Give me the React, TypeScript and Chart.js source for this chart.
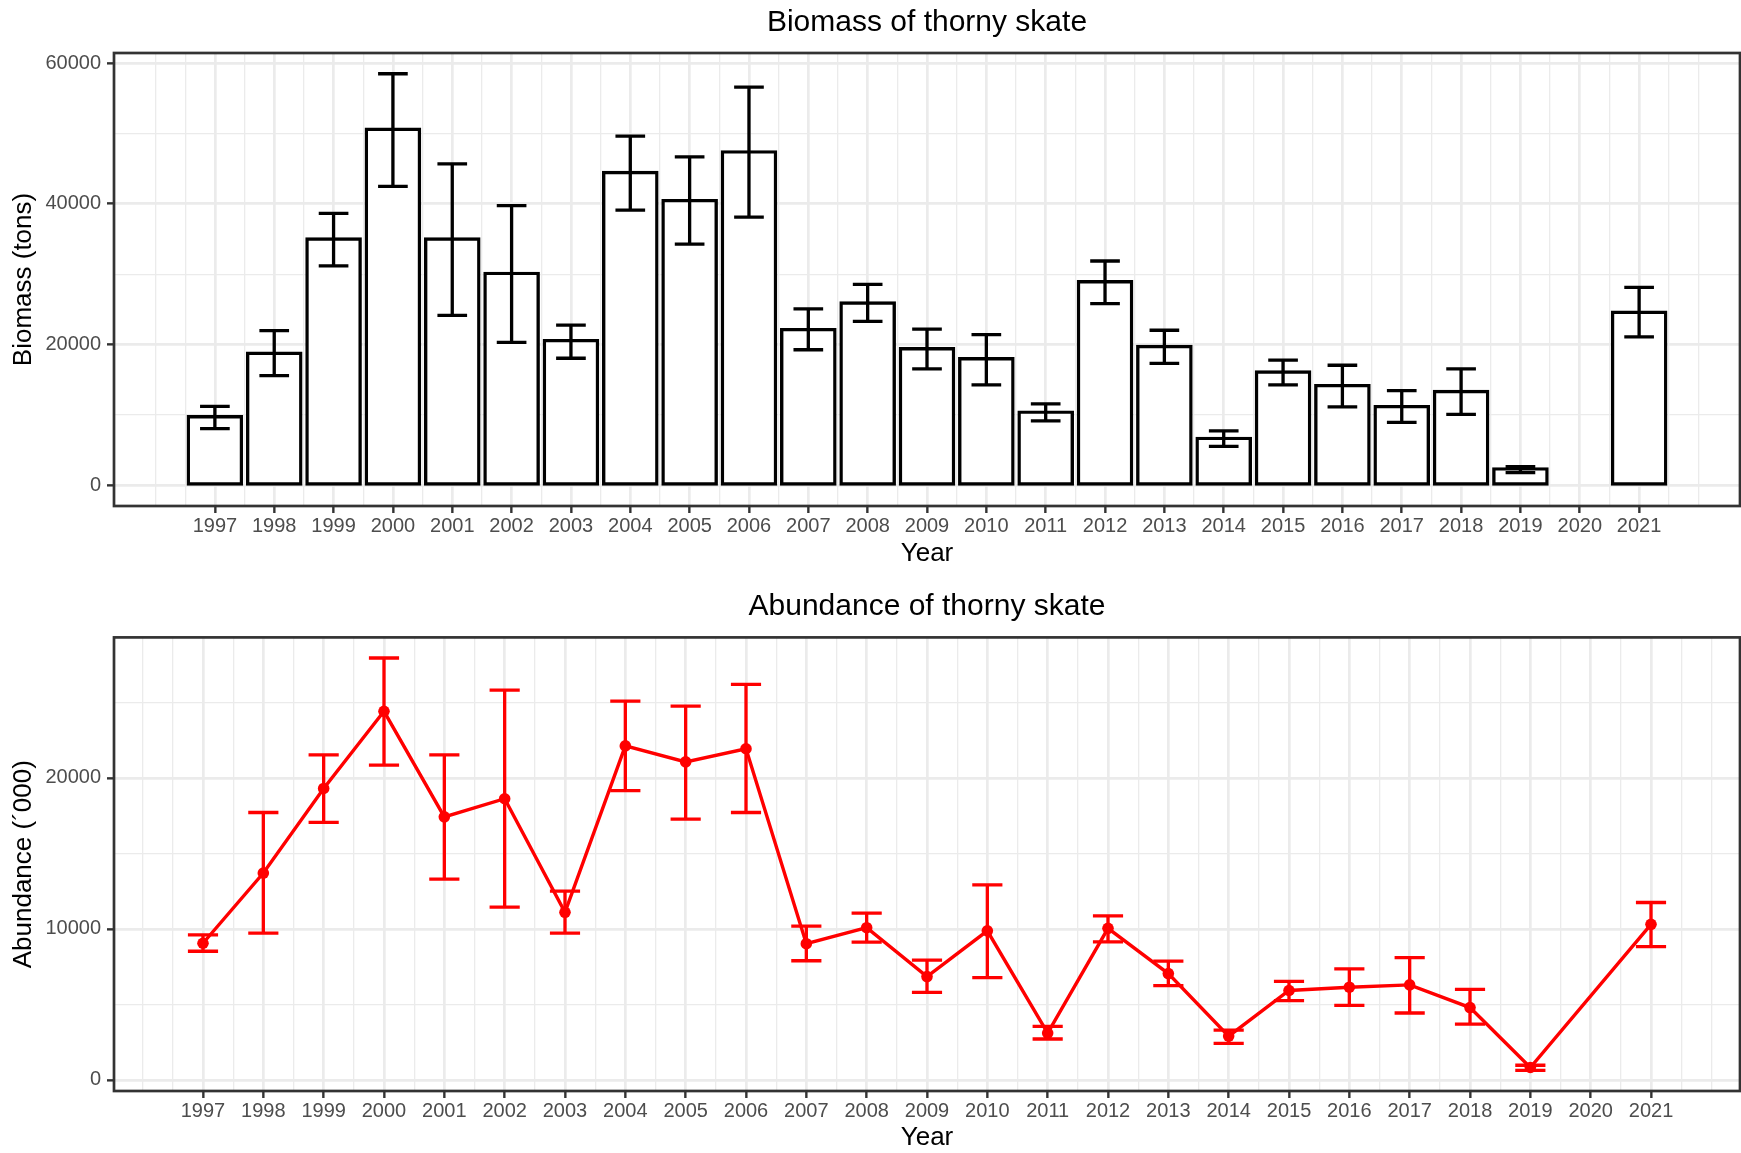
import React, { useEffect, useRef } from "react";
import { Chart, registerables } from "chart.js";

Chart.register(...registerables);

// ---------- data ----------
const years = [1997, 1998, 1999, 2000, 2001, 2002, 2003, 2004, 2005, 2006, 2007, 2008, 2009, 2010, 2011, 2012, 2013, 2014, 2015, 2016, 2017, 2018, 2019, 2021];
const xTickYears = [1997, 1998, 1999, 2000, 2001, 2002, 2003, 2004, 2005, 2006, 2007, 2008, 2009, 2010, 2011, 2012, 2013, 2014, 2015, 2016, 2017, 2018, 2019, 2020, 2021];

const biomass = [9760, 18790, 35010, 50600, 35010, 30130, 20580, 44460, 40470, 47400, 22150, 25930, 19420, 18010, 10420, 28950, 19740, 6700, 16130, 14190, 11200, 13350, 2360, 24610];
const biomassLow = [8080, 15590, 31180, 42470, 24150, 20310, 18060, 39110, 34280, 38110, 19270, 23310, 16540, 14290, 9160, 25810, 17330, 5550, 14290, 11150, 8950, 10100, 1830, 21100];
const biomassHigh = [11230, 22000, 38640, 58480, 45670, 39740, 22780, 49610, 46670, 56590, 25090, 28560, 22200, 21410, 11570, 31880, 22040, 7750, 17800, 17070, 13460, 16540, 2670, 28120];

const abundance = [9050, 13700, 19300, 24410, 17420, 18620, 11100, 22120, 21060, 21930, 9020, 10080, 6840, 9870, 3100, 10040, 7040, 2900, 5920, 6140, 6290, 4790, 820, 10300];
const abundanceLow = [8520, 9720, 17060, 20840, 13290, 11440, 9720, 19160, 17270, 17710, 7890, 9120, 5800, 6770, 2710, 9140, 6240, 2420, 5250, 4930, 4430, 3700, 630, 8830];
const abundanceHigh = [9600, 17710, 21520, 27940, 21520, 25810, 12500, 25090, 24750, 26200, 10180, 11050, 7930, 12910, 3550, 10860, 7860, 3290, 6530, 7350, 8100, 6000, 970, 11750];

const biomassYTicks = [0, 20000, 40000, 60000];
const abundanceYTicks = [0, 10000, 20000];

// ---------- style ----------
const FONT = "'Liberation Sans', Arial, Helvetica, sans-serif";
const GRID = "#EBEBEB";
const DARK = "#333333";
const TICK_TEXT = "#4D4D4D";
const MAJOR_W = 2.7;
const MINOR_W = 1.3;

function gridValues(majors: number[], min: number, max: number) {
  const step = majors[1] - majors[0];
  const ext = [majors[0] - step, ...majors, majors[majors.length - 1] + step];
  const mids: number[] = [];
  for (let i = 0; i < ext.length - 1; i++) mids.push(ext[i] + step / 2);
  const inRange = (v: number) => v >= min && v <= max;
  return {
    ends: [ext[0], ext[ext.length - 1]].filter(inRange),
    mids: mids.filter(inRange),
  };
}

const errorBarPlugin = {
  id: "errorBars",
  afterDatasetsDraw(chart: any, _args: any, opts: any) {
    if (!opts || !opts.low) return;
    const { ctx } = chart;
    const x = chart.scales.x;
    const y = chart.scales.y;
    ctx.save();
    ctx.strokeStyle = opts.color;
    ctx.lineWidth = opts.width;
    ctx.lineCap = "butt";
    opts.xs.forEach((xv: number, i: number) => {
      const xc = x.getPixelForValue(xv);
      const xl = x.getPixelForValue(xv - opts.cap / 2);
      const xr = x.getPixelForValue(xv + opts.cap / 2);
      const yl = y.getPixelForValue(opts.low[i]);
      const yh = y.getPixelForValue(opts.high[i]);
      ctx.beginPath();
      ctx.moveTo(xl, yh);
      ctx.lineTo(xr, yh);
      ctx.moveTo(xc, yh);
      ctx.lineTo(xc, yl);
      ctx.moveTo(xl, yl);
      ctx.lineTo(xr, yl);
      ctx.stroke();
    });
    ctx.restore();
  },
};

const panelBorderPlugin = {
  id: "panelBorder",
  afterDraw(chart: any) {
    const { ctx, chartArea } = chart;
    ctx.save();
    ctx.strokeStyle = DARK;
    ctx.lineWidth = 2.7;
    ctx.strokeRect(chartArea.left, chartArea.top, chartArea.right - chartArea.left, chartArea.bottom - chartArea.top);
    ctx.restore();
  },
};

interface PanelSpec {
  kind: "bar" | "line";
  title: string;
  yTitle: string;
  yTicks: number[];
  xMin: number;
  xMax: number;
  yMin: number;
  yMax: number;
  values: number[];
  low: number[];
  high: number[];
  color: string;
  titlePadTop: number;
  titlePadBottom: number;
  xAxisHeight: number;
  xTitlePadBottom: number;
}

function buildConfig(s: PanelSpec): any {
  const xg = gridValues(xTickYears, s.xMin, s.xMax);
  const yg = gridValues(s.yTicks, s.yMin, s.yMax);
  const xMain = [...xTickYears, ...xg.ends].sort((a, b) => a - b);
  const xMinor = xg.mids;
  const yAll = [...s.yTicks, ...yg.ends, ...yg.mids].sort((a, b) => a - b);
  const isXMajor = (v: number) => xTickYears.includes(v);
  const isYMajor = (v: number) => s.yTicks.includes(v);
  const points = years.map((yr, i) => ({ x: yr, y: s.values[i] }));

  const dataset: any =
    s.kind === "bar"
      ? {
          type: "bar",
          data: points,
          backgroundColor: "#FFFFFF",
          borderColor: "#000000",
          borderWidth: 3.4,
          borderSkipped: false,
          inflateAmount: 1.6,
          categoryPercentage: 1,
          barPercentage: 0.9,
        }
      : {
          type: "line",
          data: points,
          borderColor: s.color,
          borderWidth: 3.4,
          tension: 0,
          pointRadius: 5.8,
          pointBackgroundColor: s.color,
          pointBorderWidth: 0,
          fill: false,
        };

  return {
    type: s.kind,
    data: { datasets: [dataset] },
    plugins: [errorBarPlugin, panelBorderPlugin],
    options: {
      animation: false,
      responsive: false,
      devicePixelRatio: 1,
      events: [],
      layout: { autoPadding: false, padding: { left: 0, right: 1, top: 0, bottom: 0 } },
      plugins: {
        legend: { display: false },
        tooltip: { enabled: false },
        title: {
          display: true,
          text: s.title,
          fullSize: false,
          color: "#000000",
          font: { family: FONT, size: 30, weight: "normal", lineHeight: 1.2 },
          padding: { top: s.titlePadTop, bottom: s.titlePadBottom },
        },
        errorBars: {
          xs: years,
          low: s.low,
          high: s.high,
          color: s.color,
          width: 3.3,
          cap: 0.5,
        },
      },
      scales: {
        x: {
          type: "linear",
          position: "bottom",
          min: s.xMin,
          max: s.xMax,
          offset: false,
          afterBuildTicks: (scale: any) => {
            scale.ticks = xMain.map((v) => ({ value: v }));
          },
          afterFit: (scale: any) => {
            scale.height = s.xAxisHeight;
          },
          ticks: {
            autoSkip: false,
            maxRotation: 0,
            minRotation: 0,
            padding: 1,
            color: TICK_TEXT,
            font: { family: FONT, size: 20, lineHeight: 1.2 },
            callback: (v: number) => (isXMajor(v) ? String(v) : ""),
          },
          grid: {
            offset: false,
            drawOnChartArea: true,
            drawTicks: true,
            tickLength: 7,
            color: GRID,
            lineWidth: (c: any) => (c.tick && isXMajor(c.tick.value) ? MAJOR_W : MINOR_W),
            tickColor: (c: any) => (c.tick && isXMajor(c.tick.value) ? DARK : "rgba(0,0,0,0)"),
            tickWidth: 2.4,
          },
          border: { display: false },
          title: {
            display: true,
            text: "Year",
            color: "#000000",
            font: { family: FONT, size: 26, lineHeight: 1.2 },
            padding: { top: 0, bottom: s.xTitlePadBottom },
          },
        },
        xMinor: {
          type: "linear",
          position: "bottom",
          min: s.xMin,
          max: s.xMax,
          offset: false,
          afterBuildTicks: (scale: any) => {
            scale.ticks = xMinor.map((v) => ({ value: v }));
          },
          afterFit: (scale: any) => {
            scale.height = 0;
          },
          ticks: { display: false },
          grid: {
            offset: false,
            drawTicks: false,
            color: GRID,
            lineWidth: MINOR_W,
          },
          border: { display: false },
        },
        y: {
          type: "linear",
          position: "left",
          min: s.yMin,
          max: s.yMax,
          afterBuildTicks: (scale: any) => {
            scale.ticks = yAll.map((v) => ({ value: v }));
          },
          afterFit: (scale: any) => {
            scale.width = 114;
          },
          ticks: {
            autoSkip: false,
            padding: 6,
            color: TICK_TEXT,
            font: { family: FONT, size: 20, lineHeight: 1.2 },
            callback: (v: number) => (isYMajor(v) ? String(v) : ""),
          },
          grid: {
            drawTicks: true,
            tickLength: 7,
            color: GRID,
            lineWidth: (c: any) => (c.tick && isYMajor(c.tick.value) ? MAJOR_W : MINOR_W),
            tickColor: (c: any) => (c.tick && isYMajor(c.tick.value) ? DARK : "rgba(0,0,0,0)"),
            tickWidth: 2.4,
          },
          border: { display: false },
          title: {
            display: true,
            text: s.yTitle,
            color: "#000000",
            font: { family: FONT, size: 26, lineHeight: 1.2 },
            padding: { top: 8, bottom: 0 },
          },
        },
      },
    },
  };
}

function Panel({ spec, height }: { spec: PanelSpec; height: number }) {
  const ref = useRef<HTMLCanvasElement | null>(null);
  useEffect(() => {
    if (!ref.current) return;
    const chart = new Chart(ref.current, buildConfig(spec));
    return () => chart.destroy();
  }, [spec]);
  return <canvas ref={ref} width={1741} height={height} style={{ display: "block", width: 1741, height }} />;
}

const biomassSpec: PanelSpec = {
  kind: "bar",
  title: "Biomass of thorny skate",
  yTitle: "Biomass (tons)",
  yTicks: biomassYTicks,
  xMin: 1995.3,
  xMax: 2022.7,
  yMin: -2925,
  yMax: 61425,
  values: biomass,
  low: biomassLow,
  high: biomassHigh,
  color: "#000000",
  titlePadTop: 5,
  titlePadBottom: 12,
  xAxisHeight: 70,
  xTitlePadBottom: 7,
};

const abundanceSpec: PanelSpec = {
  kind: "line",
  title: "Abundance of thorny skate",
  yTitle: "Abundance (´000)",
  yTicks: abundanceYTicks,
  xMin: 1995.525,
  xMax: 2022.475,
  yMin: -735,
  yMax: 29305,
  values: abundance,
  low: abundanceLow,
  high: abundanceHigh,
  color: "#FF0000",
  titlePadTop: 12.3,
  titlePadBottom: 13.1,
  xAxisHeight: 62,
  xTitlePadBottom: 0,
};

export default function App() {
  return (
    <div style={{ position: "absolute", left: 0, top: 0, width: 1741, height: 1153, background: "#FFFFFF" }}>
      <Panel spec={biomassSpec} height={576} />
      <Panel spec={abundanceSpec} height={577} />
    </div>
  );
}
